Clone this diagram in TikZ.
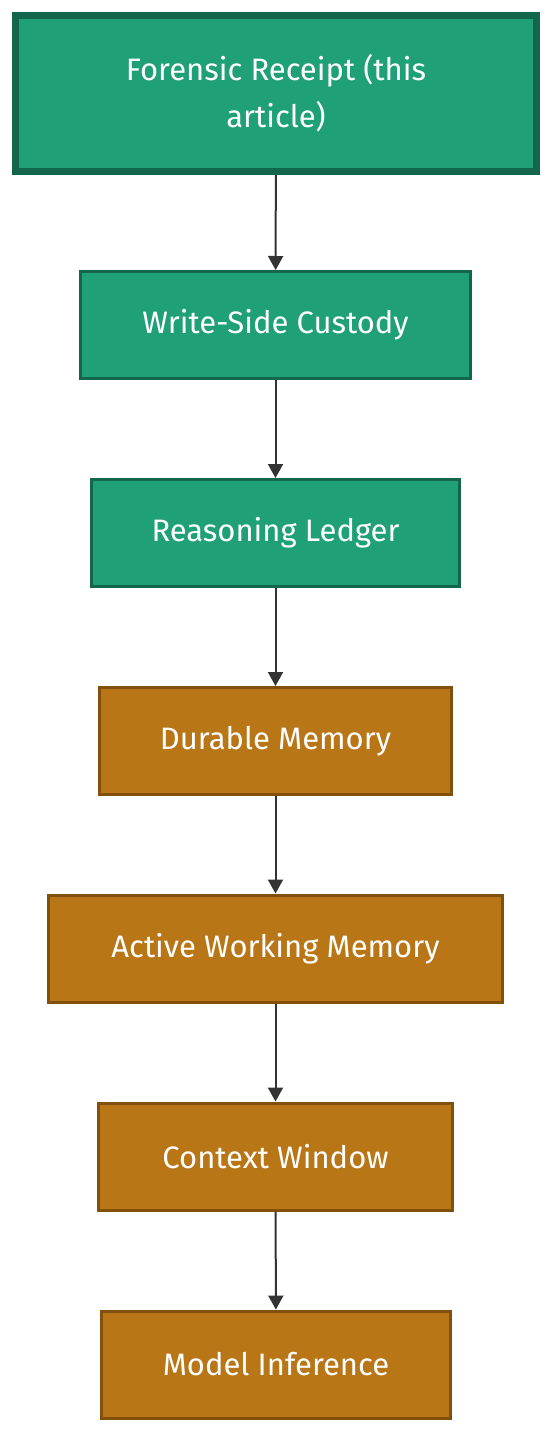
\documentclass[tikz,border=0pt]{standalone}
\usepackage{fontspec}
\setmainfont{Fira Sans}
\usepackage{xcolor}
\usetikzlibrary{arrows.meta}

\definecolor{LayerGreen}{HTML}{1FA077}
\definecolor{LayerGreenEdge}{HTML}{13654B}
\definecolor{LayerOchre}{HTML}{B97617}
\definecolor{LayerOchreEdge}{HTML}{80500C}
\definecolor{FlowGray}{HTML}{333333}

\tikzset{
  layer/.style={draw, line width=3pt, text=white, align=center,
    font=\fontsize{31}{47}\selectfont, inner sep=0pt},
  greenlayer/.style={layer, fill=LayerGreen, draw=LayerGreenEdge},
  ochrelayer/.style={layer, fill=LayerOchre, draw=LayerOchreEdge},
  flow/.style={draw=FlowGray, line width=2pt,
    -{Triangle[length=14pt,width=15pt]}}
}

\begin{document}
\begin{tikzpicture}[x=1pt,y=-1pt]
\useasboundingbox (0,0) rectangle (552,1435);

\node[greenlayer, line width=7pt, minimum width=521pt, minimum height=156pt] (receipt) at (276,93.5) {Forensic Receipt (this\\article)};
\node[greenlayer, minimum width=390pt, minimum height=107pt] (custody) at (275.5,325) {Write-Side Custody};
\node[greenlayer, minimum width=368pt, minimum height=107pt] (ledger) at (275.5,533) {Reasoning Ledger};

\node[ochrelayer, minimum width=352pt, minimum height=107pt] (durable) at (275.5,741) {Durable Memory};
\node[ochrelayer, minimum width=454pt, minimum height=107pt] (active) at (275.5,948.5) {Active Working Memory};
\node[ochrelayer, minimum width=354pt, minimum height=107pt] (context) at (275.5,1156.5) {Context Window};
\node[ochrelayer, minimum width=349pt, minimum height=107pt] (inference) at (276,1364.5) {Model Inference};

\foreach \a/\b in {receipt/custody, custody/ledger, ledger/durable, durable/active, active/context, context/inference}
  \draw[flow] (\a) -- (\b);
\end{tikzpicture}
\end{document}
